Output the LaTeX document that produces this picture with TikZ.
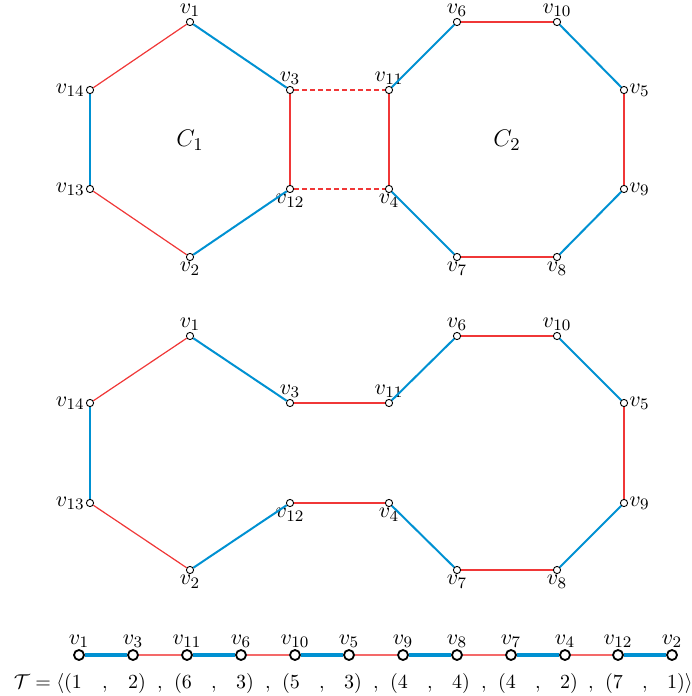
\documentclass[tikz,border=0pt]{standalone}
\definecolor{eblue}{RGB}{0,145,210}
\definecolor{ered}{RGB}{240,55,55}
\begin{document}
\begin{tikzpicture}[x=0.5pt,y=-0.5pt,
 font=\fontsize{11}{13}\selectfont,
 vtx/.style={circle,draw=black,fill=white,inner sep=0pt,minimum size=3.6pt,line width=0.45pt},
 bvtx/.style={circle,draw=black,fill=white,inner sep=0pt,minimum size=5pt,line width=0.9pt},
 be/.style={draw=eblue,line width=1pt},
 re/.style={draw=ered,line width=0.6pt},
 rd/.style={draw=ered,line width=0.6pt,dash pattern=on 2.5pt off 1.5pt},
 bbe/.style={draw=eblue,line width=1.6pt},
 bre/.style={draw=ered!75,line width=0.65pt},
 every label/.style={inner sep=0.5pt}]
\useasboundingbox (0,0) rectangle (691,696);

% ---------- top graph ----------
\node[vtx,label=above:$v_{1}$]  (t1)  at (190,22) {};
\node[vtx,label=above:$v_{3}$]  (t3)  at (290,90) {};
\node[vtx,label=left:$v_{14}$]  (t14) at (90,90) {};
\node[vtx,label=left:$v_{13}$]  (t13) at (90,189) {};
\node[vtx,label=below:$v_{12}$] (t12) at (290,189) {};
\node[vtx,label=below:$v_{2}$]  (t2)  at (190,257) {};
\node[vtx,label=above:$v_{11}$] (t11) at (389,90) {};
\node[vtx,label=below:$v_{4}$]  (t4)  at (389,189) {};
\node[vtx,label=above:$v_{6}$]  (t6)  at (457,22) {};
\node[vtx,label=above:$v_{10}$] (t10) at (557,22) {};
\node[vtx,label=right:$v_{5}$]  (t5)  at (624,90) {};
\node[vtx,label=right:$v_{9}$]  (t9)  at (624,189) {};
\node[vtx,label=below:$v_{7}$]  (t7)  at (457,257) {};
\node[vtx,label=below:$v_{8}$]  (t8)  at (557,257) {};
\node[font=\fontsize{12.5}{14}\selectfont] (c1) at (190,140) {$C_1$};
\node[font=\fontsize{12.5}{14}\selectfont] (c2) at (507,140) {$C_2$};

\draw[re] (t1) -- (t14);
\draw[be] (t1) -- (t3);
\draw[be] (t14) -- (t13);
\draw[re] (t13) -- (t2);
\draw[be] (t2) -- (t12);
\draw[re] (t12) -- (t3);
\draw[rd] (t3) -- (t11);
\draw[rd] (t12) -- (t4);
\draw[re] (t11) -- (t4);
\draw[be] (t11) -- (t6);
\draw[re] (t6) -- (t10);
\draw[be] (t10) -- (t5);
\draw[re] (t5) -- (t9);
\draw[be] (t9) -- (t8);
\draw[re] (t8) -- (t7);
\draw[be] (t7) -- (t4);

% ---------- middle graph ----------
\node[vtx,label=above:$v_{1}$]  (m1)  at (190,336) {};
\node[vtx,label=above:$v_{3}$]  (m3)  at (290,403) {};
\node[vtx,label=left:$v_{14}$]  (m14) at (90,403) {};
\node[vtx,label=left:$v_{13}$]  (m13) at (90,503) {};
\node[vtx,label=below:$v_{12}$] (m12) at (290,503) {};
\node[vtx,label=below:$v_{2}$]  (m2)  at (190,570) {};
\node[vtx,label=above:$v_{11}$] (m11) at (389,403) {};
\node[vtx,label=below:$v_{4}$]  (m4)  at (389,503) {};
\node[vtx,label=above:$v_{6}$]  (m6)  at (457,336) {};
\node[vtx,label=above:$v_{10}$] (m10) at (557,336) {};
\node[vtx,label=right:$v_{5}$]  (m5)  at (624,403) {};
\node[vtx,label=right:$v_{9}$]  (m9)  at (624,503) {};
\node[vtx,label=below:$v_{7}$]  (m7)  at (457,570) {};
\node[vtx,label=below:$v_{8}$]  (m8)  at (557,570) {};

\draw[re] (m1) -- (m14);
\draw[be] (m1) -- (m3);
\draw[be] (m14) -- (m13);
\draw[re] (m13) -- (m2);
\draw[be] (m2) -- (m12);
\draw[re] (m3) -- (m11);
\draw[re] (m12) -- (m4);
\draw[be] (m11) -- (m6);
\draw[re] (m6) -- (m10);
\draw[be] (m10) -- (m5);
\draw[re] (m5) -- (m9);
\draw[be] (m9) -- (m8);
\draw[re] (m8) -- (m7);
\draw[be] (m7) -- (m4);

% ---------- bottom path ----------
\node[bvtx,label=above:$v_{1}$]  (b1)  at (79,655) {};
\node[bvtx,label=above:$v_{3}$]  (b2)  at (133,655) {};
\node[bvtx,label=above:$v_{11}$] (b3)  at (187,655) {};
\node[bvtx,label=above:$v_{6}$]  (b4)  at (241,655) {};
\node[bvtx,label=above:$v_{10}$] (b5)  at (295,655) {};
\node[bvtx,label=above:$v_{5}$]  (b6)  at (349,655) {};
\node[bvtx,label=above:$v_{9}$]  (b7)  at (403,655) {};
\node[bvtx,label=above:$v_{8}$]  (b8)  at (457,655) {};
\node[bvtx,label=above:$v_{7}$]  (b9)  at (511,655) {};
\node[bvtx,label=above:$v_{4}$]  (b10) at (565,655) {};
\node[bvtx,label=above:$v_{12}$] (b11) at (618,655) {};
\node[bvtx,label=above:$v_{2}$]  (b12) at (672,655) {};

\draw[bbe] (b1) -- (b2);
\draw[bre] (b2) -- (b3);
\draw[bbe] (b3) -- (b4);
\draw[bre] (b4) -- (b5);
\draw[bbe] (b5) -- (b6);
\draw[bre] (b6) -- (b7);
\draw[bbe] (b7) -- (b8);
\draw[bre] (b8) -- (b9);
\draw[bbe] (b9) -- (b10);
\draw[bre] (b10) -- (b11);
\draw[bbe] (b11) -- (b12);

% ---------- tuple text ----------
\begin{scope}[every node/.style={anchor=base,inner sep=0pt,font=\fontsize{10.3}{12}\selectfont}]
\node (n1)  at (77,688)  {\llap{$\mathcal{T}=\langle($}$1$};
\node (k1)  at (105,688) {$,$};
\node (n2)  at (133,688) {$2$\rlap{$)$}};
\node (k2)  at (160,688) {$,$};
\node (n3)  at (187,688) {\llap{$($}$6$};
\node (k3)  at (214,688) {$,$};
\node (n4)  at (241,688) {$3$\rlap{$)$}};
\node (k4)  at (268,688) {$,$};
\node (n5)  at (295,688) {\llap{$($}$5$};
\node (k5)  at (322,688) {$,$};
\node (n6)  at (349,688) {$3$\rlap{$)$}};
\node (k6)  at (376,688) {$,$};
\node (n7)  at (403,688) {\llap{$($}$4$};
\node (k7)  at (430,688) {$,$};
\node (n8)  at (457,688) {$4$\rlap{$)$}};
\node (k8)  at (484,688) {$,$};
\node (n9)  at (511,688) {\llap{$($}$4$};
\node (k9)  at (538,688) {$,$};
\node (n10) at (565,688) {$2$\rlap{$)$}};
\node (k10) at (591,688) {$,$};
\node (n11) at (618,688) {\llap{$($}$7$};
\node (k11) at (645,688) {$,$};
\node (n12) at (672,688) {$1$\rlap{$)\rangle$}};
\end{scope}
\end{tikzpicture}
\end{document}
